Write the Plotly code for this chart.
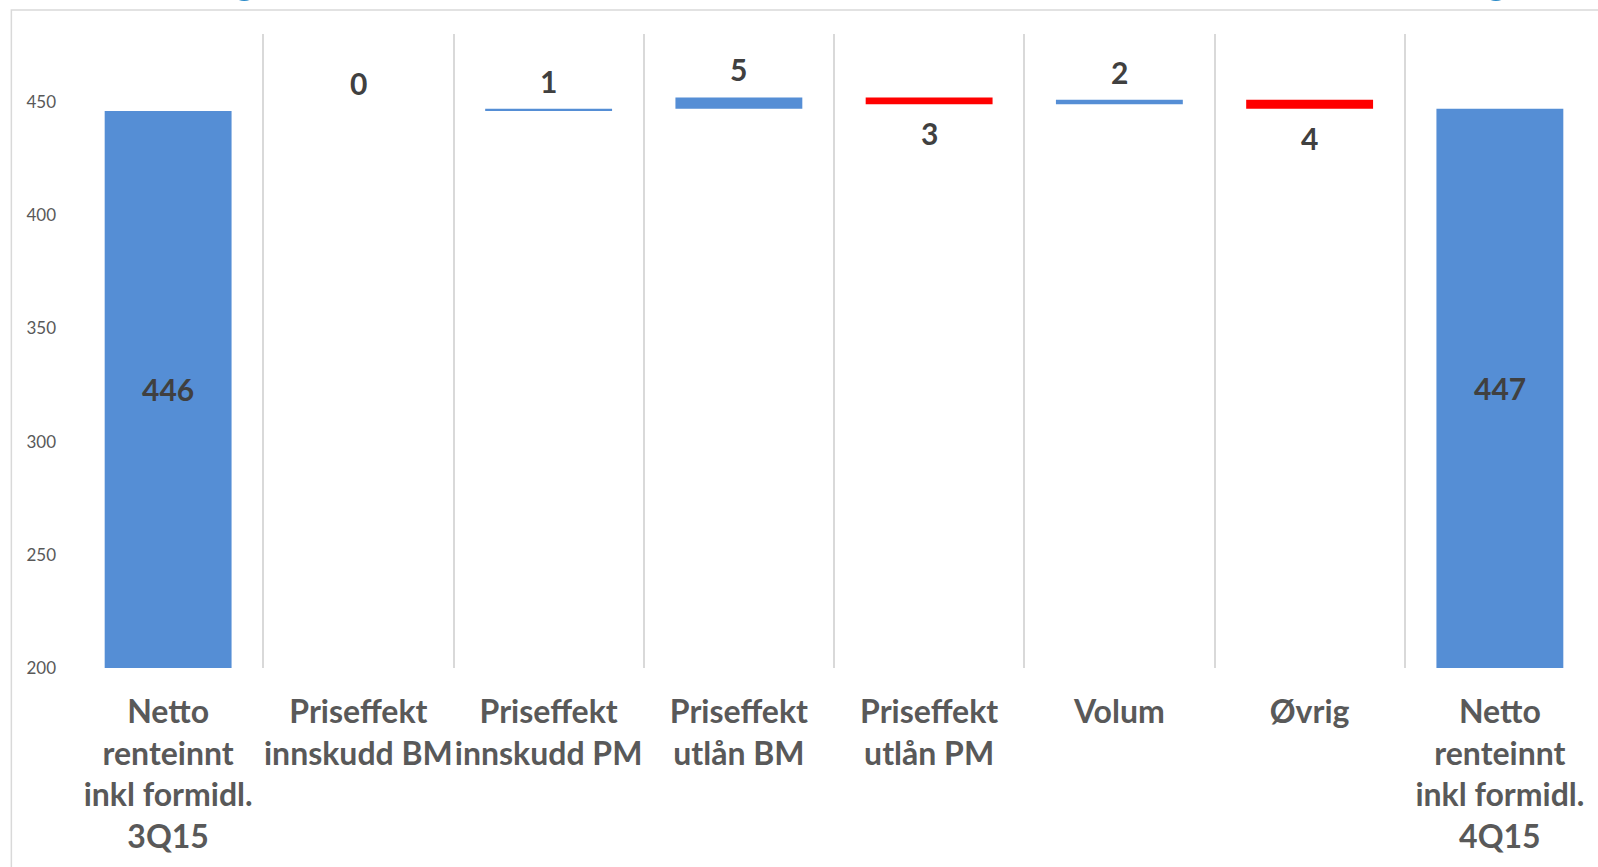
import plotly.graph_objects as go

categories = ['Netto<br>renteinnt<br>inkl formidl.<br>3Q15', 'Priseffekt<br>innskudd BM', 'Priseffekt<br>innskudd PM',
              'Priseffekt<br>utlån BM', 'Priseffekt<br>utlån PM', 'Volum', 'Øvrig',
              'Netto<br>renteinnt<br>inkl formidl.<br>4Q15']
values = [446, 0, 1, 5, -3, 2, -4, 447]
measures = ['absolute', 'relative', 'relative', 'relative', 'relative', 'relative', 'relative', 'total']

BLUE = '#558ED5'
RED = '#FF0000'
FONT = 'Lato'
YMIN, YMAX = 200, 480

fig = go.Figure()
fig.add_trace(go.Waterfall(
    x=categories, y=values, measure=measures,
    textinfo='none',
    connector=dict(visible=False),
    increasing=dict(marker=dict(color=BLUE)),
    decreasing=dict(marker=dict(color=RED)),
    totals=dict(marker=dict(color=BLUE)),
    showlegend=False,
))

# value labels: totals centred in the visible bar, changes above / below
label_font = dict(family=FONT, size=30, color='#404040', weight='bold')
annotations = []
running = 0
for cat, v, m in zip(categories, values, measures):
    if m == 'relative':
        end = running + v
        running = end
        if v >= 0:
            annotations.append(dict(x=cat, y=end, text=str(abs(v)), showarrow=False,
                                    yanchor='bottom', yshift=8, font=label_font))
        else:
            annotations.append(dict(x=cat, y=end, text=str(abs(v)), showarrow=False,
                                    yanchor='top', yshift=-9, font=label_font))
    else:
        running = v
        annotations.append(dict(x=cat, y=(YMIN + v) / 2, text=str(v), showarrow=False,
                                yanchor='middle', font=label_font))

# outer frame and the cut-off blue circles at the top
shapes = [
    dict(type='rect', xref='paper', yref='paper', x0=-0.0405, x1=1.05, y0=-0.5, y1=1.038,
         line=dict(color='#D9D9D9', width=1.5), fillcolor='rgba(0,0,0,0)', layer='below'),
]
for cx in [0.1125, 0.9349]:
    shapes.append(dict(type='circle', xref='paper', yref='paper',
                       x0=cx - 0.0095, x1=cx + 0.0095, y0=1.052, y1=1.100,
                       line=dict(width=0), fillcolor='#2A8AC8'))

fig.update_layout(
    width=1598, height=867,
    margin=dict(l=73, r=3, t=34, b=199),
    paper_bgcolor='white', plot_bgcolor='white',
    waterfallgap=0.333,
    shapes=shapes,
    annotations=annotations,
    font=dict(family=FONT, color='#595959'),
    xaxis=dict(
        type='category', tickson='boundaries', showgrid=True, gridcolor='#D9D9D9', gridwidth=1.5,
        showline=False, zeroline=False, ticks='', tickangle=0,
        tickfont=dict(family=FONT, size=32, color='#595959', weight='bold'),
        ticklabelstandoff=22, automargin=False,
    ),
    yaxis=dict(
        range=[YMIN, YMAX], tickvals=[200, 250, 300, 350, 400, 450],
        showgrid=False, zeroline=False, showline=False, ticks='',
        tickfont=dict(family=FONT, size=17, color='#595959'),
        ticklabelstandoff=16, automargin=False,
    ),
)

fig.write_html('out.html', config={'displayModeBar': False},
               post_script="document.body.style.margin='0';")
